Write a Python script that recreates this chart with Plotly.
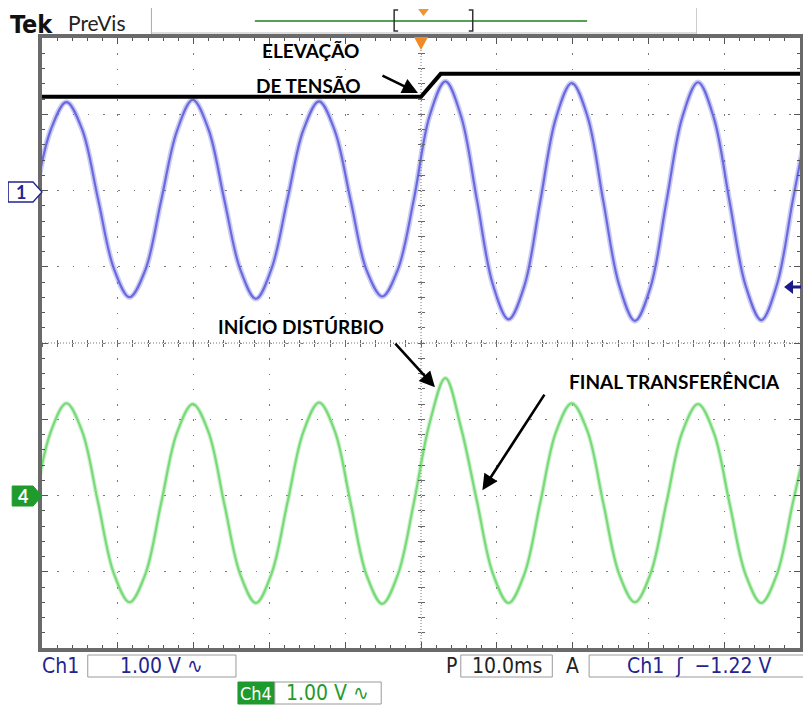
import plotly.graph_objects as go

# ---------------- data (read from the screen capture) ----------------
# time in ms relative to trigger, vertical values in divisions (1 V/div)
time_ms = [-50.95, -48.86, -46.78, -44.70, -42.61, -40.53, -38.45, -36.36,
           -34.28, -32.20, -30.11, -28.03, -25.95, -23.86, -21.78, -19.70,
           -17.61, -15.53, -13.45, -11.36, -9.28, -7.20, -5.11, -3.03,
           -0.95, 1.14, 3.22, 5.30, 7.39, 9.47, 11.55, 13.64,
           15.72, 17.80, 19.89, 21.97, 24.05, 26.14, 28.22, 30.30,
           32.39, 34.47, 36.55, 38.64, 40.72, 42.80, 44.89, 46.97,
           49.05, 51.14]

ch1_div = [1.88, 2.79, 3.16, 2.80, 1.89, 0.98, 0.60, 0.96,
           1.87, 2.78, 3.19, 2.80, 1.88, 0.97, 0.58, 0.98,
           1.89, 2.79, 3.17, 2.78, 1.87, 0.96, 0.61, 0.97,
           1.88, 2.98, 3.43, 2.97, 1.87, 0.77, 0.31, 0.75,
           1.85, 2.95, 3.41, 2.97, 1.86, 0.76, 0.29, 0.74,
           1.86, 2.96, 3.42, 2.95, 1.85, 0.76, 0.30, 0.77,
           1.87, 2.96]

ch4_div = [-2.10, -1.17, -0.79, -1.16, -2.09, -3.02, -3.40, -3.03,
           -2.10, -1.18, -0.80, -1.17, -2.11, -3.03, -3.41, -3.02,
           -2.09, -1.17, -0.78, -1.16, -2.10, -3.04, -3.42, -3.03,
           -2.10, -1.05, -0.46, -1.12, -2.08, -3.02, -3.41, -3.03,
           -2.10, -1.17, -0.79, -1.16, -2.10, -3.03, -3.40, -3.02,
           -2.09, -1.17, -0.80, -1.18, -2.11, -3.03, -3.41, -3.03,
           -2.10, -1.17]

# overlay line marking the voltage step (drawn on the capture)
step_t = [-50.0, 0.0, 2.6, 50.0]
step_div = [3.23, 3.23, 3.53, 3.53]

# labels
label_elev = ["ELEVAÇÃO", "DE TENSÃO"]
label_inicio = "INÍCIO DISTÚRBIO"
label_final = "FINAL TRANSFERÊNCIA"
ch1_scale = "1.00 V ∿"
ch4_scale = "1.00 V ∿"
time_scale = "10.0ms"
trigger_txt = "Ch1  ʃ  −1.22 V"

# ---------------- geometry ----------------
# the page body has an 8px margin, so the figure starts at (8, 8) of the window
OFF = 8
W, H = 811 - OFF, 711 - OFF
PLOT_X0, PLOT_X1 = 42, 804
PLOT_Y0, PLOT_Y1 = 38, 648
PW, PH = PLOT_X1 - PLOT_X0, PLOT_Y1 - PLOT_Y0


def px(x):
    return (x - PLOT_X0) / PW


def py(y):
    return 1 - (y - PLOT_Y0) / PH


BLUE = "#6a6ae0"
GREEN = "#78da78"
DBLUE = "#24248f"
DGREEN = "#1f9a2c"
NARROW = "Liberation Sans Narrow, DejaVu Sans Condensed, Arial Narrow, sans-serif"

fig = go.Figure()

# Ch1 (fuzzy look: wide translucent + core)
fig.add_trace(go.Scatter(x=time_ms, y=ch1_div, mode="lines",
                         line=dict(color="rgba(106,106,224,0.35)", width=5.5, shape="spline"),
                         hoverinfo="skip"))
fig.add_trace(go.Scatter(x=time_ms, y=ch1_div, mode="lines",
                         line=dict(color=BLUE, width=2.2, shape="spline"), name="Ch1"))
# Ch4
fig.add_trace(go.Scatter(x=time_ms, y=ch4_div, mode="lines",
                         line=dict(color="rgba(120,218,120,0.35)", width=4.5, shape="spline"),
                         hoverinfo="skip"))
fig.add_trace(go.Scatter(x=time_ms, y=ch4_div, mode="lines",
                         line=dict(color=GREEN, width=2.2, shape="spline"), name="Ch4"))
# black step overlay
fig.add_trace(go.Scatter(x=step_t, y=step_div, mode="lines",
                         line=dict(color="black", width=4), hoverinfo="skip"))

# dummy traces to activate overlay axes (center-cross ticks)
fig.add_trace(go.Scatter(x=[None], y=[None], xaxis="x2", yaxis="y2", hoverinfo="skip"))
fig.add_trace(go.Scatter(x=[None], y=[None], xaxis="x3", yaxis="y3", hoverinfo="skip"))

GRIDDASH = "1.5px,13.75px"
fig.update_layout(
    width=W, height=H,
    margin=dict(l=PLOT_X0 - OFF, r=W - (PLOT_X1 - OFF), t=PLOT_Y0 - OFF, b=H - (PLOT_Y1 - OFF), pad=0),
    paper_bgcolor="white", plot_bgcolor="white", showlegend=False,
    xaxis=dict(range=[-50, 50], tick0=0, dtick=10, showgrid=True, gridcolor="#7a7a7a",
               gridwidth=1, griddash=GRIDDASH, zeroline=False, showticklabels=False,
               ticks="inside", ticklen=6, tickcolor="#555", tickwidth=1,
               minor=dict(dtick=2, ticks="inside", ticklen=3, tickcolor="#555", showgrid=False),
               showline=True, linewidth=4, linecolor="#6a6a6a", mirror="allticks",
               fixedrange=True),
    yaxis=dict(range=[-4, 4], tick0=0, dtick=1, showgrid=True, gridcolor="#7a7a7a",
               gridwidth=1, griddash=GRIDDASH, zeroline=False, showticklabels=False,
               ticks="inside", ticklen=6, tickcolor="#555", tickwidth=1,
               minor=dict(dtick=0.2, ticks="inside", ticklen=3, tickcolor="#555", showgrid=False),
               showline=True, linewidth=4, linecolor="#6a6a6a", mirror="allticks",
               fixedrange=True),
    xaxis2=dict(overlaying="x", range=[-50, 50], anchor="free", position=0.5, side="bottom",
                showgrid=False, zeroline=False, showline=False, showticklabels=False,
                ticks="outside", ticklen=3, tick0=0, dtick=2, tickcolor="#666", fixedrange=True),
    xaxis3=dict(overlaying="x", range=[-50, 50], anchor="free", position=0.5, side="bottom",
                showgrid=False, zeroline=False, showline=False, showticklabels=False,
                ticks="inside", ticklen=3, tick0=0, dtick=2, tickcolor="#666", fixedrange=True),
    yaxis2=dict(overlaying="y", range=[-4, 4], anchor="free", position=0.5, side="left",
                showgrid=False, zeroline=False, showline=False, showticklabels=False,
                ticks="outside", ticklen=3, tick0=0, dtick=0.2, tickcolor="#666", fixedrange=True),
    yaxis3=dict(overlaying="y", range=[-4, 4], anchor="free", position=0.5, side="left",
                showgrid=False, zeroline=False, showline=False, showticklabels=False,
                ticks="inside", ticklen=3, tick0=0, dtick=0.2, tickcolor="#666", fixedrange=True),
)

shapes = []
# center cross dense dotted lines
shapes.append(dict(type="line", xref="x", yref="y", x0=-50, x1=50, y0=0, y1=0,
                   line=dict(color="#777", width=1, dash="1px,2px"), layer="below"))
shapes.append(dict(type="line", xref="x", yref="y", x0=0, x1=0, y0=-4, y1=4,
                   line=dict(color="#777", width=1, dash="1px,2px"), layer="below"))

# ---- top bar ----
shapes.append(dict(type="line", xref="paper", yref="paper", x0=px(152), x1=px(152), y0=py(8), y1=py(34),
                   line=dict(color="#aaaaaa", width=1)))
shapes.append(dict(type="line", xref="paper", yref="paper", x0=px(700), x1=px(700), y0=py(8), y1=py(34),
                   line=dict(color="#cccccc", width=1)))
shapes.append(dict(type="line", xref="paper", yref="paper", x0=px(152), x1=px(700), y0=py(33), y1=py(33),
                   line=dict(color="#bbbbbb", width=1)))
shapes.append(dict(type="line", xref="paper", yref="paper", x0=px(256), x1=px(590), y0=py(21), y1=py(21),
                   line=dict(color="#55a055", width=2)))
shapes.append(dict(type="path", xref="paper", yref="paper",
                   path=f"M {px(400)},{py(10)} L {px(396)},{py(10)} L {px(396)},{py(31)} L {px(400)},{py(31)}",
                   line=dict(color="#333", width=1.5)))
shapes.append(dict(type="path", xref="paper", yref="paper",
                   path=f"M {px(471)},{py(10)} L {px(475)},{py(10)} L {px(475)},{py(31)} L {px(471)},{py(31)}",
                   line=dict(color="#333", width=1.5)))
shapes.append(dict(type="path", xref="paper", yref="paper",
                   path=f"M {px(420)},{py(9)} L {px(431)},{py(9)} L {px(425.5)},{py(16)} Z",
                   fillcolor="#f0962c", line=dict(width=0)))
# trigger position marker on graticule
shapes.append(dict(type="path", xref="paper", yref="paper",
                   path=f"M {px(416)},{py(37)} L {px(430)},{py(37)} L {px(423)},{py(50)} Z",
                   fillcolor="#f08a24", line=dict(width=0)))

# ---- channel markers on the left ----
shapes.append(dict(type="path", xref="paper", yref="paper",
                   path=(f"M {px(8)},{py(182)} L {px(33)},{py(182)} L {px(42)},{py(192)} "
                         f"L {px(33)},{py(202)} L {px(8)},{py(202)} Z"),
                   fillcolor="white", line=dict(color=DBLUE, width=1.3)))
shapes.append(dict(type="path", xref="paper", yref="paper",
                   path=(f"M {px(12)},{py(486)} L {px(33)},{py(486)} L {px(42)},{py(496)} "
                         f"L {px(33)},{py(506)} L {px(12)},{py(506)} Z"),
                   fillcolor=DGREEN, line=dict(color=DGREEN, width=1)))
# trigger level arrow on the right
shapes.append(dict(type="path", xref="paper", yref="paper",
                   path=(f"M {px(788)},{py(287)} L {px(797)},{py(280)} L {px(797)},{py(285.5)} "
                         f"L {px(805)},{py(285.5)} L {px(805)},{py(288.5)} L {px(797)},{py(288.5)} "
                         f"L {px(797)},{py(294)} Z"),
                   fillcolor="#1a1a8a", line=dict(width=0)))


# ---- bottom readout boxes ----
def box(x0, x1, y0, y1, fill="white", lc="#9a9a9a"):
    shapes.append(dict(type="rect", xref="paper", yref="paper", x0=px(x0), x1=px(x1),
                       y0=py(y1), y1=py(y0), fillcolor=fill, line=dict(color=lc, width=1)))


box(88, 237, 655, 677)
box(463, 555, 655, 677)
box(592, 812, 655, 677)
box(239, 276, 682, 704, fill=DGREEN, lc=DGREEN)
box(276, 383, 682, 704)

fig.update_layout(shapes=shapes)

ann = []


def text(x, y, s, size, color="black", family=NARROW, xanchor="center", bold=False, yanchor="middle"):
    ann.append(dict(x=px(x), y=py(y), xref="paper", yref="paper", text=(f"<b>{s}</b>" if bold else s),
                    showarrow=False, xanchor=xanchor, yanchor=yanchor,
                    font=dict(size=size, color=color, family=family)))


# top bar text (anchored at the top of the figure so it is not clipped)
text(8, 8.5, "Tek", 25, "#111", "Liberation Sans Narrow, DejaVu Sans Condensed, sans-serif",
     "left", True, "top")
text(66, 8.5, "PreVis", 21, "#222", "Lato, Open Sans, sans-serif", "left", yanchor="top")

# channel marker labels
text(21, 192, "1", 18, DBLUE, "Lato, sans-serif", bold=True)
text(23, 496, "4", 18, "white", "Lato, sans-serif", bold=True)

# bottom readouts
text(40, 666, "Ch1", 21, DBLUE, NARROW, "left")
text(162, 666, ch1_scale, 21, DBLUE, NARROW)
text(446, 666, "P", 21, "#222", NARROW, "left")
text(509, 666, time_scale, 21, "#222", NARROW)
text(567, 666, "A", 21, "#222", NARROW, "left")
text(702, 666, trigger_txt, 21, DBLUE, NARROW)
text(257.5, 693, "Ch4", 18, "white", NARROW)
text(329, 693, ch4_scale, 21, DGREEN, NARROW)

# overlay labels (data coordinates)
LABF = dict(size=19, color="black", family="Lato, Open Sans, sans-serif")
for s, (x, y) in zip(label_elev + [label_inicio, label_final],
                     [(-14.6, 3.84), (-14.8, 3.38), (-15.8, 0.21), (33.4, -0.50)]):
    ann.append(dict(x=x, y=y, xref="x", yref="y", text=f"<b>{s}</b>", showarrow=False,
                    xanchor="center", yanchor="middle", font=LABF))

# arrows (head in data coordinates, tail offset in pixels)
for (x, y, ax, ay) in [(-0.4, 3.28, -37, -18), (1.84, -0.58, -41, -45), (8.1, -1.93, 63, -97)]:
    ann.append(dict(x=x, y=y, xref="x", yref="y", ax=ax, ay=ay, text="", showarrow=True,
                    arrowhead=2, arrowsize=1.2, arrowwidth=2.6, arrowcolor="black", standoff=0))

fig.update_layout(annotations=ann)

fig.write_html("out.html")
